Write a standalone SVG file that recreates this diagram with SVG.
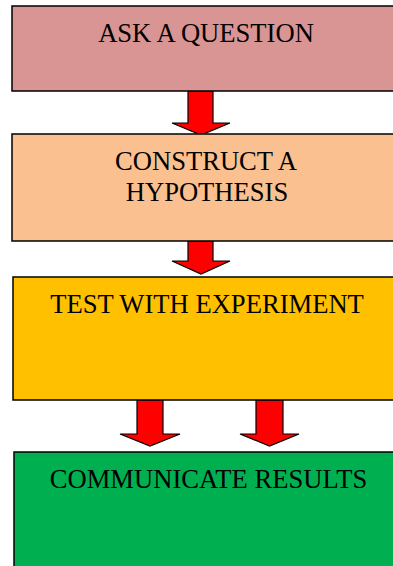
<svg xmlns="http://www.w3.org/2000/svg" width="393" height="566" viewBox="0 0 393 566">
<style>
.box{stroke:#000;stroke-width:1.5}
.lbl{font-family:"Liberation Serif","Times New Roman",serif;font-size:26.6px;fill:#000;text-anchor:middle}
.arr{fill:#FF0000;stroke:#000;stroke-width:1.2;stroke-linejoin:miter}
</style>
<rect width="393" height="566" fill="#fff"/>
<g id="connectors">
<path class="arr" d="M188,91 H213 V123 H230 L201,135 L172,123 H188 Z"/>
<path class="arr" d="M188,241 H213 V261 H230 L201,274 L172,261 H188 Z"/>
<path class="arr" d="M137,400 H163 V434 H180 L150,446 L120,434 H137 Z"/>
<path class="arr" d="M256,400 H283 V434 H299 L269.5,446 L240,434 H256 Z"/>
</g>
<g id="ask">
<rect class="box" x="12" y="6" width="392" height="85" fill="#D99594"/>
<text class="lbl" x="206" y="42">ASK A QUESTION</text>
</g>
<g id="hypothesis">
<rect class="box" x="12" y="134" width="392" height="107" fill="#FAC090"/>
<text class="lbl" x="206" y="170">CONSTRUCT A</text>
<text class="lbl" x="207" y="201">HYPOTHESIS</text>
</g>
<g id="experiment">
<rect class="box" x="13" y="277" width="392" height="123" fill="#FFC000"/>
<text class="lbl" x="207" y="313">TEST WITH EXPERIMENT</text>
</g>
<g id="communicate">
<rect class="box" x="14" y="452" width="392" height="130" fill="#00B050"/>
<text class="lbl" x="208.5" y="488">COMMUNICATE RESULTS</text>
</g>
</svg>
